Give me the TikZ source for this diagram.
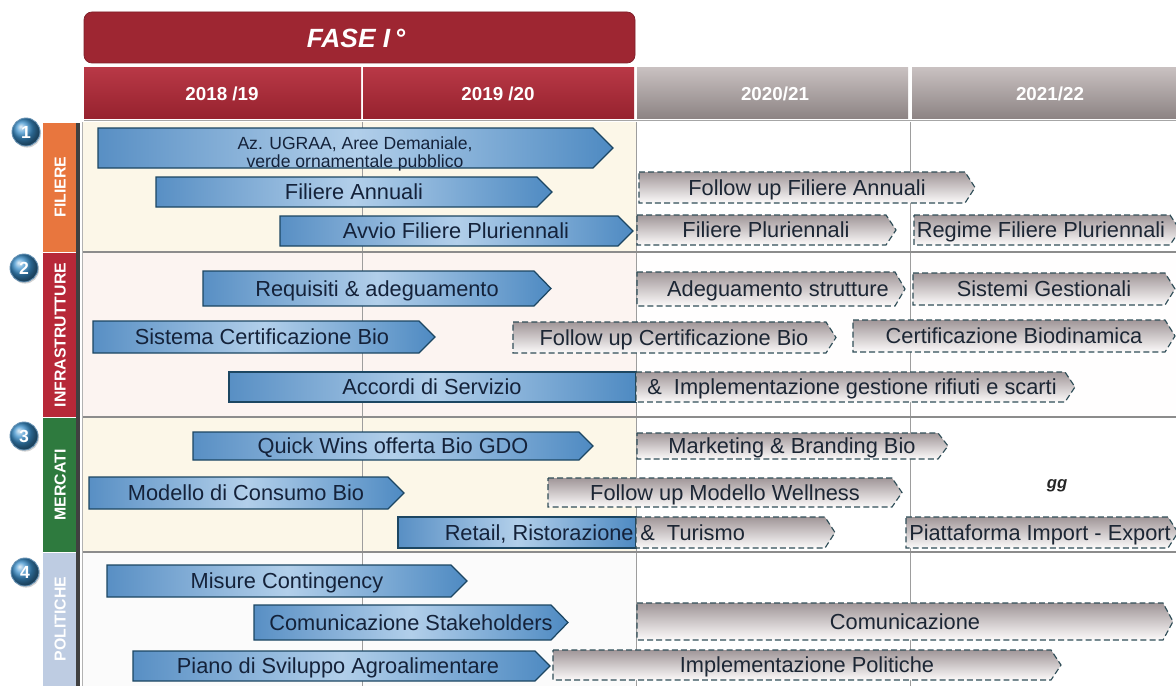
\documentclass[tikz,border=0pt]{standalone}
\usepackage{fontspec}
\setmainfont{Liberation Sans}
\usetikzlibrary{shadows}
\definecolor{blA}{RGB}{88,143,196}
\definecolor{blB}{RGB}{178,207,234}
\definecolor{blC}{RGB}{78,138,194}
\definecolor{bord}{RGB}{28,70,98}
\definecolor{dgA}{RGB}{160,150,152}
\definecolor{dgB}{RGB}{252,250,250}
\definecolor{dashbord}{RGB}{48,78,88}
\definecolor{txtblue}{RGB}{20,34,58}
\definecolor{txtdark}{RGB}{28,38,52}
\definecolor{fasered}{RGB}{158,38,50}
\definecolor{yrA}{RGB}{184,56,70}
\definecolor{yrB}{RGB}{150,34,46}
\definecolor{gyA}{RGB}{200,192,192}
\definecolor{gyB}{RGB}{140,131,131}
\definecolor{orangebar}{RGB}{232,118,62}
\definecolor{infrabar}{RGB}{183,40,56}
\definecolor{mercbar}{RGB}{46,122,62}
\definecolor{politbar}{RGB}{190,204,226}
\definecolor{cream}{RGB}{252,247,232}
\definecolor{pinkish}{RGB}{252,244,241}
\definecolor{numblue}{RGB}{60,145,205}
\definecolor{numrim}{RGB}{36,100,150}
\definecolor{gridgray}{RGB}{140,140,140}
\tikzset{
  bluearr/.style={draw=bord, line width=0.7pt, left color=blA, right color=blC, middle color=blB},
  dasharr/.style={draw=dashbord, line width=0.65pt, dash pattern=on 3.4pt off 1.8pt, top color=dgA, bottom color=dgB},
  btext/.style={font=\fontsize{12.4}{14}\selectfont, text=txtblue, inner sep=0pt, text height=8.9pt, text depth=0pt},
  dtext/.style={font=\fontsize{12.4}{14}\selectfont, text=txtdark, inner sep=0pt, text height=8.9pt, text depth=0pt},
  yeartext/.style={font=\fontsize{10.7}{12}\selectfont\bfseries, text=white, inner sep=0pt, text height=7.7pt, text depth=0pt},
  bartext/.style={font=\fontsize{9}{10}\selectfont\bfseries, text=white, inner sep=0pt, rotate=90, text height=6.4pt, text depth=0pt},
  numcirc/.style={circle, minimum size=0.56cm, inner sep=0pt, shading=ball, ball color=numblue, draw=numrim!70, line width=0.5pt, text=white, font=\fontsize{10}{11}\selectfont\bfseries, drop shadow={shadow xshift=0.6pt, shadow yshift=-0.9pt, opacity=0.35}},
  hgrid/.style={draw=gridgray, line width=0.7pt},
  vgrid/.style={draw=gridgray!85, line width=0.45pt}
}
\newcommand\BArr[5]{\path[bluearr] (#1,#3) -- ({#2-#5},#3) -- (#2,{(#3+#4)/2}) -- ({#2-#5},#4) -- (#1,#4) -- cycle;}
\newcommand\DArr[4]{\path[dasharr] (#1,#3) -- ({#2-10},#3) -- (#2,{(#3+#4)/2}) -- ({#2-10},#4) -- (#1,#4) -- cycle;}
\begin{document}
\begin{tikzpicture}[x=0.02cm,y=-0.02cm]
\useasboundingbox (0,0) rectangle (1176,686);
\fill[white] (0,0) rectangle (1176,686);
% backgrounds
\fill[cream] (82,122) rectangle (636,252);
\fill[pinkish] (82,252) rectangle (636,417);
\fill[cream] (82,417) rectangle (636,552);
\fill[white!97!gray] (82,552) rectangle (636,686);
\fill[white!99!pink] (636,252) rectangle (1176,417);
% grid
\draw[vgrid] (362,122) -- (362,686);
\draw[vgrid] (636,122) -- (636,686);
\draw[vgrid] (910,122) -- (910,686);
\draw[hgrid] (82,252) -- (1176,252);
\draw[hgrid] (82,417) -- (1176,417);
\draw[hgrid] (82,552) -- (1176,552);
\draw[draw=gray!60, line width=0.4pt] (82,122) -- (82,686);
% header
\path[fill=fasered, draw=fasered!80!black, line width=0.4pt, rounded corners=0.16cm] (84,12) rectangle (635,63);
\node[font=\fontsize{15}{17}\selectfont\bfseries\itshape, text=white, inner sep=0pt] (fase) at (356,38) {FASE I\,°};
\path[top color=yrA, bottom color=yrB] (84,68) rectangle (361,119);
\path[top color=yrA, bottom color=yrB] (363,68) rectangle (634,119);
\path[top color=gyA, bottom color=gyB] (637,68) rectangle (908,119);
\path[top color=gyA, bottom color=gyB] (912,68) rectangle (1176,119);
\draw[draw=gray!70, line width=1pt] (84,120.5) -- (1176,120.5);
\node[yeartext] (y1) at (222,93.5) {2018 /19};
\node[yeartext] (y2) at (498,93.5) {2019 /20};
\node[yeartext] (y3) at (775,93.5) {2020/21};
\node[yeartext] (y4) at (1050,93.5) {2021/22};
% side bars
\fill[orangebar] (43,123) rectangle (76,252);
\fill[infrabar] (43,253) rectangle (76,417);
\fill[mercbar] (43,418) rectangle (76,552);
\fill[politbar] (43,553) rectangle (76,686);
\fill[black!75] (76,123) rectangle (80,686);
\node[bartext] (lf) at (60,187) {FILIERE};
\node[bartext] (li) at (60,335) {INFRASTRUTTURE};
\node[bartext] (lm) at (60,485) {MERCATI};
\node[bartext] (lp) at (60,619) {POLITICHE};
\node[numcirc] (n1) at (26,132) {1};
\node[numcirc] (n2) at (24,268) {2};
\node[numcirc] (n3) at (24,436) {3};
\node[numcirc] (n4) at (25,572) {4};
% FILIERE
\BArr{98}{613}{128}{168}{20}
\node[font=\fontsize{10}{10.4}\selectfont, text=txtblue, inner sep=0pt, align=center] (b1) at (355,154) {Az. UGRAA, Aree Demaniale,\\verde ornamentale pubblico};
\BArr{156}{552}{177}{207}{15}
\node[btext] (b2) at (354,192) {Filiere Annuali};
\BArr{280}{633}{216}{246}{15}
\node[btext] (b3) at (456,231) {Avvio Filiere Pluriennali};
\DArr{639}{975}{172}{203}
\node[dtext] (d1) at (807,187.5) {Follow up Filiere Annuali};
\DArr{637}{896}{215}{245}
\node[dtext] (d2) at (766,230) {Filiere Pluriennali};
\DArr{914}{1180}{215}{245}
\node[dtext] (d3) at (1041,230) {Regime Filiere Pluriennali};
% INFRASTRUTTURE
\BArr{203}{551}{271}{306}{17}
\node[btext] (b4) at (377,288.5) {Requisiti \& adeguamento};
\BArr{93}{435}{321}{353}{16}
\node[btext] (b5) at (262,337) {Sistema Certificazione Bio};
\BArr{229}{636}{372}{402}{0}
\node[btext] (b6) at (432,387) {Accordi di Servizio};
\DArr{637}{905}{272}{306}
\node[dtext] (d4) at (778,289) {Adeguamento strutture};
\DArr{913}{1175}{273}{305}
\node[dtext] (d5) at (1044,289) {Sistemi Gestionali};
\DArr{513}{836}{322}{353}
\node[dtext] (d6) at (674,337.5) {Follow up Certificazione Bio};
\DArr{853}{1175}{320}{352}
\node[dtext] (d7) at (1014,336) {Certificazione Biodinamica};
\DArr{636}{1075}{372}{402}
\node[dtext] (d8) at (852,387) {\&\ \ Implementazione gestione rifiuti e scarti};
% MERCATI
\BArr{193}{593}{432}{460}{14}
\node[btext] (b7) at (393,446) {Quick Wins offerta Bio GDO};
\DArr{637}{948}{433}{459}
\node[dtext] (d9) at (792,446) {Marketing \& Branding Bio};
\BArr{89}{404}{477}{509}{16}
\node[btext] (b8) at (246,493) {Modello di Consumo Bio};
\DArr{548}{902}{478}{507}
\node[dtext] (d10) at (725,492.5) {Follow up Modello Wellness};
\node[font=\fontsize{9.5}{10}\selectfont\bfseries\itshape, text=black!85, inner sep=0pt] (gg) at (1057,486) {gg};
\BArr{398}{636}{517}{548}{0}
\node[btext, anchor=east] (b9) at (634,532.5) {Retail, Ristorazione};
\DArr{636}{835}{517}{548}
\node[dtext, anchor=west] (d11) at (640,532.5) {\&\ \ Turismo};
\DArr{906}{1178}{517}{548}
\node[dtext] (d12) at (1040,532.5) {Piattaforma Import - Export};
% POLITICHE
\BArr{107}{467}{565}{597}{16}
\node[btext] (b10) at (287,581) {Misure Contingency};
\BArr{254}{568}{605}{640}{17}
\node[btext] (b11) at (411,622.5) {Comunicazione Stakeholders};
\DArr{637}{1173}{603}{640}
\node[dtext] (d13) at (905,621.5) {Comunicazione};
\BArr{133}{550}{651}{681}{15}
\node[btext] (b12) at (338,666) {Piano di Sviluppo Agroalimentare};
\DArr{553}{1061}{650}{680}
\node[dtext] (d14) at (807,665) {Implementazione Politiche};
\end{tikzpicture}
\end{document}
